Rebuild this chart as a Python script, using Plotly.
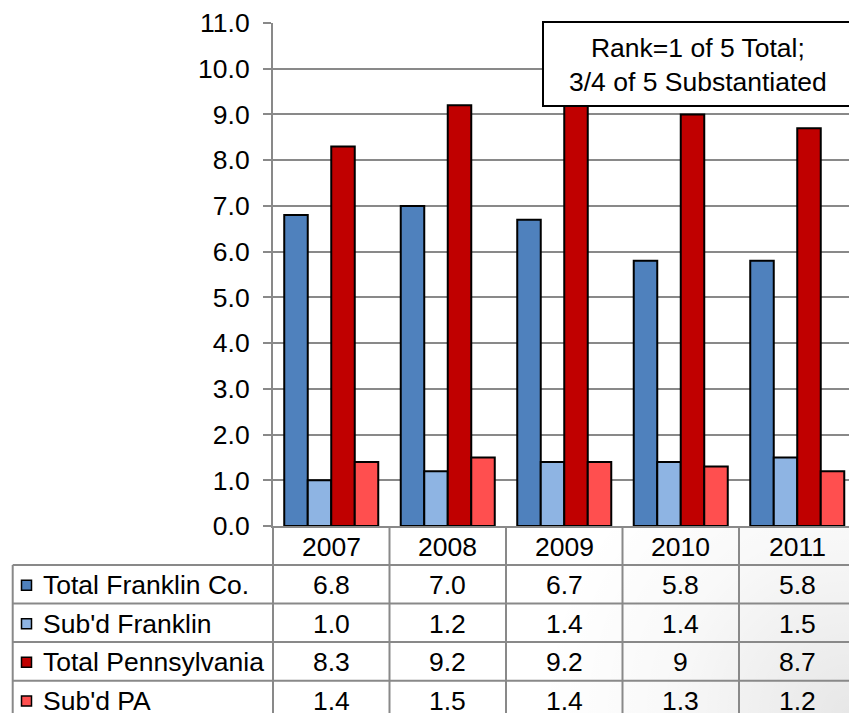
import base64
import plotly.graph_objects as go

# ---- data -------------------------------------------------------------
years = ["2007", "2008", "2009", "2010", "2011"]
total_franklin = [6.8, 7.0, 6.7, 5.8, 5.8]
subd_franklin = [1.0, 1.2, 1.4, 1.4, 1.5]
total_pa = [8.3, 9.2, 9.2, 9, 8.7]
subd_pa = [1.4, 1.5, 1.4, 1.3, 1.2]

series_names = ["Total Franklin Co.", "Sub'd Franklin", "Total Pennsylvania", "Sub'd PA"]
series_values = [total_franklin, subd_franklin, total_pa, subd_pa]
series_colors = ["#4F81BD", "#8EB4E3", "#C00000", "#FF4F4F"]

y_ticks = [0, 1, 2, 3, 4, 5, 6, 7, 8, 9, 10, 11]
note_text = "Rank=1 of 5 Total;<br>3/4 of 5 Substantiated"

# ---- layout geometry (pixels) ----------------------------------------
W, H = 849, 713
L, T, B = 273, 23, 187
PW, PH = W - L, H - T - B
CAT_W = 116.5                       # width of one year column
GRID = "#898989"
FONT = "Arial, 'Liberation Sans', sans-serif"
FS = 26.5


def px_x(px):
    return (px - L) / PW


def px_y(px):
    return 1 - (px - T) / PH


def label(x, y, text, xref="paper", xanchor="center"):
    return dict(x=x, xref=xref, y=y, yref="paper", text=text, showarrow=False,
                xanchor=xanchor, yanchor="middle",
                font=dict(size=FS, color="black", family=FONT))


fig = go.Figure()
for name, vals, col in zip(series_names, series_values, series_colors):
    fig.add_trace(go.Bar(
        x=years, y=vals, name=name,
        marker=dict(color=col, line=dict(color="black", width=2)),
        showlegend=False,
    ))

# ---- data table under the plot ---------------------------------------
row_lines = [565, 603.5, 642, 680.7, 719.5]
header_mid = (T + PH + row_lines[0]) / 2 + 1
shapes = []
annotations = []

# header row: one column per year category
for i, yr in enumerate(years):
    annotations.append(label(i, px_y(header_mid), yr, xref="x"))
col_edges = [i - 0.5 for i in range(len(years) + 1)]
for e in col_edges[1:]:
    shapes.append(dict(type="line", xref="x", yref="paper",
                       x0=e, x1=e, y0=px_y(T + PH), y1=px_y(H + 10),
                       line=dict(color=GRID, width=2), layer="above"))
# left border of the year columns and of the label column
shapes.append(dict(type="line", xref="paper", yref="paper",
                   x0=0, x1=0, y0=px_y(T + PH), y1=px_y(H + 10),
                   line=dict(color=GRID, width=2)))
shapes.append(dict(type="line", xref="paper", yref="paper",
                   x0=px_x(12.7), x1=px_x(12.7), y0=px_y(row_lines[0]), y1=px_y(H + 10),
                   line=dict(color=GRID, width=2)))
for r in row_lines[:-1]:
    shapes.append(dict(type="line", xref="paper", yref="paper",
                       x0=px_x(12.7), x1=px_x(W + 20), y0=px_y(r), y1=px_y(r),
                       line=dict(color=GRID, width=2)))

for k, (name, vals, col) in enumerate(zip(series_names, series_values, series_colors)):
    mid = (row_lines[k] + row_lines[k + 1]) / 2 + 1
    # legend key
    shapes.append(dict(type="rect", xref="paper", yref="paper",
                       x0=px_x(21.5), x1=px_x(31.5), y0=px_y(mid - 5), y1=px_y(mid + 5),
                       fillcolor=col, line=dict(color="black", width=1.5)))
    annotations.append(label(px_x(41), px_y(mid), name, xanchor="left"))
    for i, v in enumerate(vals):
        annotations.append(label(i, px_y(mid), str(v), xref="x"))

# ---- note box --------------------------------------------------------
shapes.append(dict(type="rect", xref="paper", yref="paper",
                   x0=px_x(543), x1=px_x(860), y0=px_y(106), y1=px_y(22),
                   fillcolor="white", line=dict(color="black", width=2), layer="above"))
annotations.append(label(px_x(698), px_y(65), note_text))

# ---- soft corner shading behind the lower-right of the table ---------
SH_X0, SH_Y0 = 540, T + PH
sw, sh = W - SH_X0, H - SH_Y0
shade_svg = (
    f"<svg xmlns='http://www.w3.org/2000/svg' width='{sw}' height='{sh}' "
    f"viewBox='0 0 {sw} {sh}'><defs><radialGradient id='g' gradientUnits='userSpaceOnUse' "
    f"cx='{sw}' cy='{sh}' r='{sw}'>"
    "<stop offset='0' stop-color='#000' stop-opacity='0.095'/>"
    "<stop offset='0.6' stop-color='#000' stop-opacity='0.025'/>"
    "<stop offset='1' stop-color='#000' stop-opacity='0'/>"
    f"</radialGradient></defs><rect width='{sw}' height='{sh}' fill='url(#g)'/></svg>"
)
shade_src = "data:image/svg+xml;base64," + base64.b64encode(shade_svg.encode()).decode()

fig.update_layout(
    width=W, height=H, autosize=False,
    margin=dict(l=L, r=0, t=T, b=B, pad=0),
    paper_bgcolor="white", plot_bgcolor="white",
    barmode="group", bargap=0.193, bargroupgap=0,
    font=dict(family=FONT, color="black"),
    xaxis=dict(type="category", range=[-0.5, -0.5 + PW / CAT_W],
               showticklabels=False, ticks="", showgrid=False,
               showline=True, linecolor=GRID, linewidth=2, zeroline=False),
    yaxis=dict(range=[0, 11], tickvals=y_ticks, tickformat=".1f",
               showgrid=True, gridcolor=GRID, gridwidth=2,
               showline=True, linecolor=GRID, linewidth=2,
               ticks="outside", ticklen=8, tickcolor=GRID, tickwidth=2,
               ticklabelstandoff=8, zeroline=False,
               tickfont=dict(size=FS, color="black", family=FONT)),
    images=[dict(source=shade_src, xref="paper", yref="paper",
                 x=px_x(SH_X0), y=px_y(SH_Y0), sizex=sw / PW, sizey=sh / PH,
                 xanchor="left", yanchor="top", sizing="stretch", layer="below")],
    shapes=shapes, annotations=annotations,
)

fig.write_html("out.html")
